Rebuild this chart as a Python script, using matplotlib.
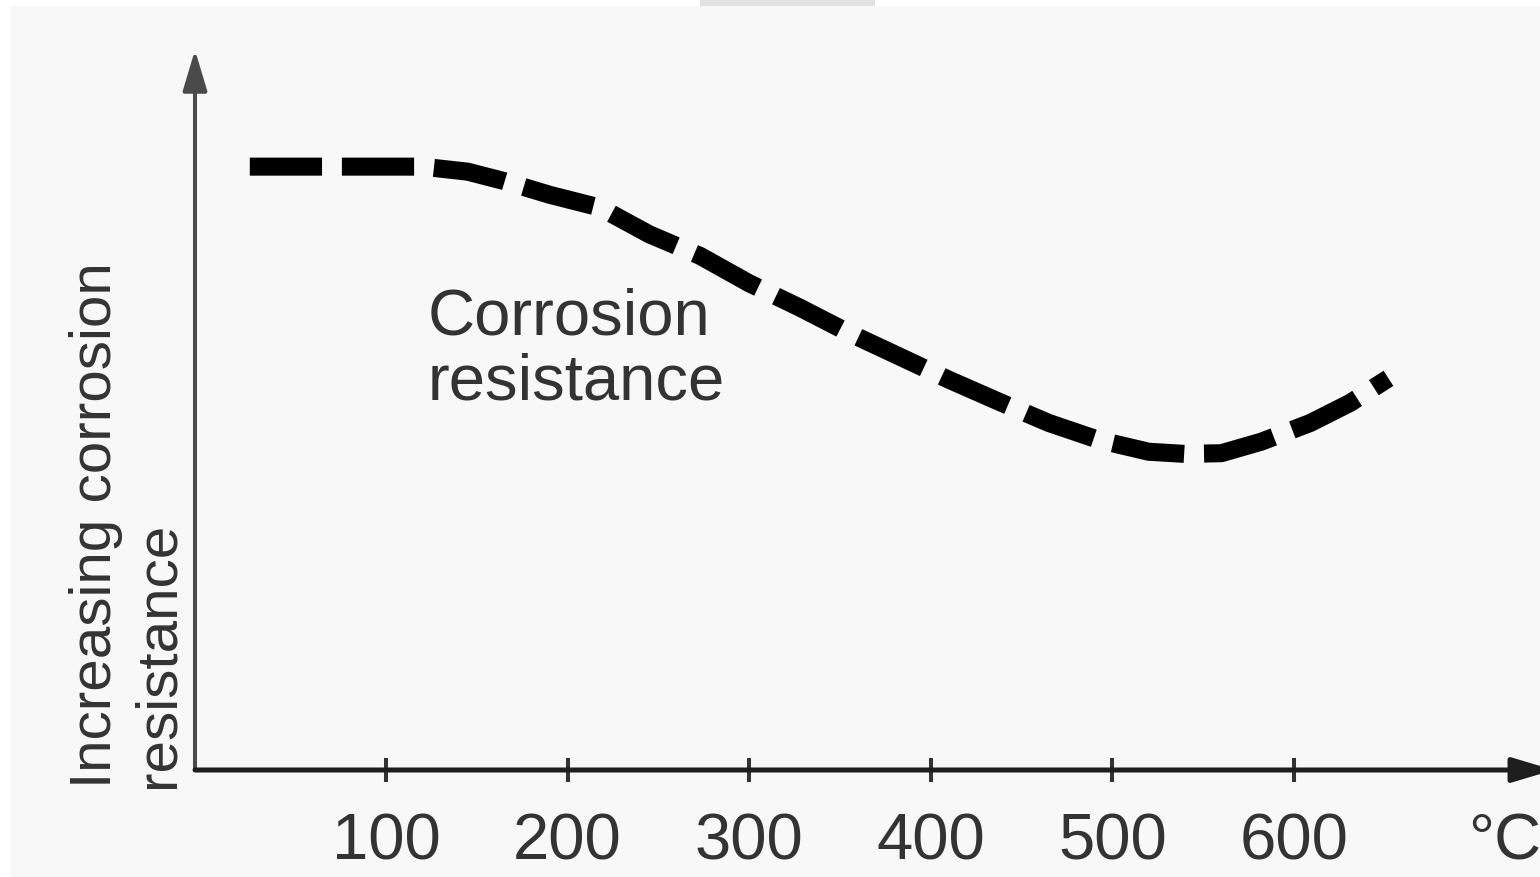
import matplotlib.pyplot as plt
from matplotlib.patches import Rectangle

# curve (temperature in deg C, relative resistance 0-100)
temps = [25, 70, 120, 145, 165, 190, 218, 245, 273, 300, 328, 355,
         383, 410, 438, 465, 493, 520, 540, 560, 582, 609, 631, 652]
resistance = [83.8, 83.8, 83.8, 83.1, 81.8, 79.9, 78.1, 74.4, 71.4, 67.6, 64.2, 60.7,
              57.4, 54.2, 51.1, 48.2, 45.8, 44.2, 43.9, 44.0, 45.6, 48.2, 51.0, 54.4]
tick_temps = [100, 200, 300, 400, 500, 600]
tick_labels = ["100", "200", "300", "400", "500", "600"]

W, H = 1540, 877
bg = "#f8f8f8"
txt = "#333333"
font = "Liberation Sans"

fig = plt.figure(figsize=(W / 100, H / 100), dpi=100, facecolor=bg)

# white border strips and the grey tab at the top
fig.patches.append(Rectangle((0, (H - 6) / H), 1, 6 / H, transform=fig.transFigure,
                             facecolor="white", edgecolor="none"))
fig.patches.append(Rectangle((0, 0), 10 / W, 1, transform=fig.transFigure,
                             facecolor="white", edgecolor="none"))
fig.patches.append(Rectangle((700 / W, (H - 6) / H), 175 / W, 6 / H, transform=fig.transFigure,
                             facecolor="#e2e2e2", edgecolor="none"))

# axes: left edge at y-axis line, bottom at x-axis line, top at arrow tip
ax = fig.add_axes([195 / W, (H - 770) / H, (W - 195) / W, 720 / H])
ax.set_facecolor("none")
ax.set_xlim((195 - 204.4) / 1.816, (W - 204.4) / 1.816)
ax.set_ylim(0, 100)

for s in ax.spines.values():
    s.set_visible(False)

# axis lines with arrow heads
ax.annotate("", xy=(0, 1), xytext=(0, 0), xycoords="axes fraction",
            arrowprops=dict(arrowstyle="-|>,head_length=0.5,head_width=0.15",
                            mutation_scale=50, lw=2.9, color="#4a4a4a",
                            shrinkA=0, shrinkB=0))
ax.annotate("", xy=(1.01, 0), xytext=(0, 0), xycoords="axes fraction",
            arrowprops=dict(arrowstyle="-|>,head_length=0.5,head_width=0.15",
                            mutation_scale=50, lw=3.6, color="#1e1e1e",
                            shrinkA=0, shrinkB=0), annotation_clip=False)

ax.plot(temps, resistance, color="black", lw=13, dashes=(4.0, 1.1),
        solid_capstyle="butt", dash_capstyle="butt")

ax.set_xticks(tick_temps)
ax.set_xticklabels(tick_labels, fontsize=47, family=font, color=txt)
ax.tick_params(axis="x", direction="inout", length=17, width=2.9, colors="#333333", pad=22)
ax.set_yticks([])

fig.text(428 / W, 1 - 350 / H, "Corrosion\nresistance", fontsize=47, family=font,
         color=txt, ha="left", va="center", linespacing=1.1)
fig.text(127 / W, 1 - 788 / H, "Increasing corrosion\nresistance", fontsize=42,
         family=font, color=txt, rotation=90, ha="center", va="bottom",
         multialignment="left")
fig.text(1468 / W, 1 - 842 / H, "\u00b0C", fontsize=47, family=font, color=txt,
         ha="left", va="center")

fig.savefig("out.png", dpi=100, facecolor=bg)
